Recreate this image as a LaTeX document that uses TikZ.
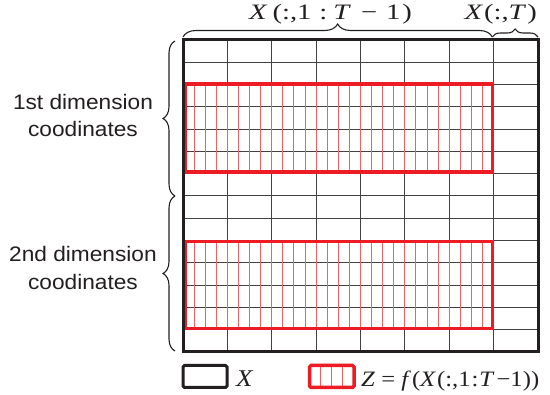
\documentclass[tikz,border=0pt]{standalone}
\usepackage{fontspec}
\setmainfont{Liberation Serif}
\newfontfamily\sansf[FakeStretch=1.08]{Liberation Sans}
\newfontfamily\widetop[FakeStretch=1.3]{Liberation Serif}
\newfontfamily\widelegend[FakeStretch=1.12]{Liberation Serif}
\usetikzlibrary{decorations.pathreplacing}
\definecolor{rd}{HTML}{ED1C24}
\definecolor{bk}{HTML}{231F20}
\tikzset{
  gridline/.style={draw=bk!85, line width=1pt},
  hatch/.style={draw=rd!70, line width=1.3pt},
  redbox/.style={draw=rd, line width=3.5pt},
  outerbox/.style={draw=bk, line width=3pt},
  bracestyle/.style={draw=bk, line width=1.1pt, decorate, decoration={brace, amplitude=#1}},
  sidelabel/.style={font=\sansf\fontsize{21}{26}\selectfont, text=bk, inner sep=0pt, anchor=base},
  toplabel/.style={font=\widetop\fontsize{22}{24}\selectfont, text=bk, inner sep=0pt, anchor=base},
  leglabel/.style={font=\widelegend\fontsize{22}{24}\selectfont, text=bk, inner sep=0pt, anchor=base west},
}
\begin{document}
\begin{tikzpicture}[x=1pt,y=-1pt]
\useasboundingbox (0,0) rectangle (550,395);
\fill[white] (0,0) rectangle (550,395);
% grid corners
\coordinate (tl) at (183,40);
\coordinate (br) at (538,352);
% grid lines
\foreach \i in {1,...,7} \draw[gridline] ({floor(183+\i*44.375)+0.5},40) -- ({floor(183+\i*44.375)+0.5},352);
\foreach \j in {1,...,13} \draw[gridline] (183,{floor(40+\j*22.2857)+0.5}) -- (538,{floor(40+\j*22.2857)+0.5});
% red hatched regions
\foreach \ya/\yb in {84/172, 241.3/328.5}{
  \foreach \m in {1,...,27} \draw[hatch] ({floor(183+\m*11.094)+0.5},\ya) -- ({floor(183+\m*11.094)+0.5},\yb);
  \draw[redbox] (185.7,\ya) rectangle (492.3,\yb);
}
% outer border
\draw[outerbox] (tl) rectangle (br);
% top braces
\coordinate (tb1) at (183,37);
\coordinate (tb2) at (492.3,37);
\coordinate (tb3) at (538,37);
\draw[bracestyle=13pt] (tb1) -- (tb2);
\draw[bracestyle=8pt] (tb2) -- (tb3);
\node[toplabel, anchor=base west] (lab1) at (249,19.5) {\textit{X}\hspace{5pt}(:,1\hspace{8pt}:\hspace{6pt}\textit{T}\hspace{10pt}−\hspace{9pt}1\hspace{2pt})};
\node[toplabel, anchor=base east] (lab2) at (537,19.5) {\textit{X}\hspace{1pt}(:,\textit{T}\hspace{1pt})};
% left braces
\coordinate (lb1) at (175,41);
\coordinate (lb2) at (175,196);
\coordinate (lb3) at (175,351);
\draw[bracestyle=12pt] (lb2) -- (lb1);
\draw[bracestyle=12pt] (lb3) -- (lb2);
\node[sidelabel] (d1a) at (83,110) {1st dimension};
\node[sidelabel] (d1b) at (83,137) {coodinates};
\node[sidelabel] (d2a) at (83,262) {2nd dimension};
\node[sidelabel] (d2b) at (83,290) {coodinates};
% legend
\draw[outerbox, rounded corners=1.5pt] (183,365.5) rectangle (227,387.5);
\node[leglabel, font=\widelegend\fontsize{24}{26}\selectfont] (legx) at (236,387) {\textit{X}};
\foreach \k in {1,2,3} \draw[hatch] ({floor(309.5+\k*11.12)+0.5},365.5) -- ({floor(309.5+\k*11.12)+0.5},387.5);
\draw[redbox, rounded corners=1.5pt] (309.5,365.5) rectangle (354,387.5);
\node[leglabel] (legz) at (361,386.5) {\textit{Z} = \textit{f}\hspace{1pt}(\textit{X}\hspace{1pt}(:,1\hspace{1pt}:\hspace{1pt}\textit{T}\hspace{2pt}−1))};
\end{tikzpicture}
\end{document}
